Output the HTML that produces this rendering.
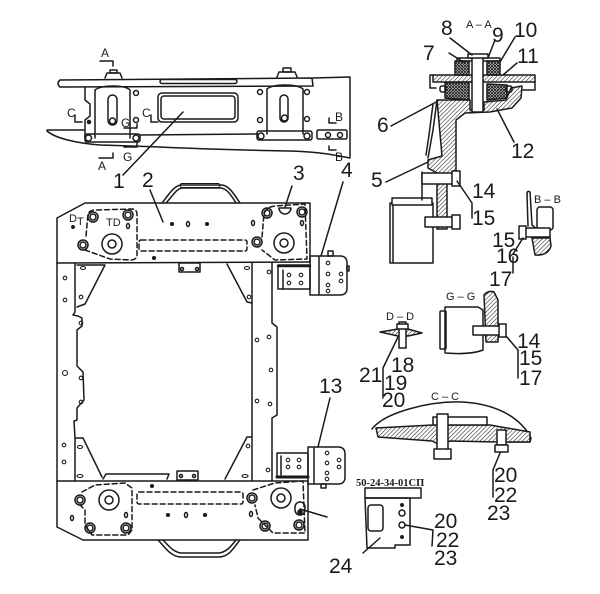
<!DOCTYPE html>
<html><head><meta charset="utf-8">
<style>
html,body{margin:0;padding:0;background:#fff;}
svg{display:block;}
text{font-family:"Liberation Sans",sans-serif;fill:#1a1a1a;stroke:none;}
.n{font-size:21px;}
.s{font-size:11px;}
.m{font-size:12px;}
</style></head><body>
<svg width="600" height="594" viewBox="0 0 600 594" xmlns="http://www.w3.org/2000/svg">
<defs>
<pattern id="h" width="3" height="3" patternUnits="userSpaceOnUse" patternTransform="rotate(45)"><rect width="3" height="3" fill="#fff"/><line x1="0" y1="0" x2="0" y2="3" stroke="#222" stroke-width="1.1"/></pattern>
<pattern id="x" width="3" height="3" patternUnits="userSpaceOnUse"><rect width="3" height="3" fill="#fff"/><path d="M0,0L3,3M3,0L0,3" stroke="#222" stroke-width="1"/></pattern>
</defs>
<rect width="600" height="594" fill="#fff"/>
<g fill="none" stroke="#1a1a1a" stroke-width="1.5" stroke-linejoin="round" stroke-linecap="round">

<!-- ===== TOP VIEW (part 1) ===== -->
<path d="M60,80 L312,78 L313,86 L60,87 Q56,83.5 60,80 Z"/>
<rect x="160" y="79.5" width="77" height="4" rx="2"/>
<path d="M313,78 L350,77 L350,157"/>
<path d="M85,87 L85,100 L90,104 L90,116 L85,120 L85,138"/>
<path d="M47,130 L85,130"/>
<path d="M47,131 C55,138 75,143 100,145 L160,147 C200,149 240,150 290,151 C320,152 335,155 350,158"/>
<path d="M140,135 L258,134"/>
<!-- left bracket -->
<path d="M95,138 L95,90 Q100,86 113,86 Q126,86 130,90 L130,138"/>
<rect x="108" y="95" width="9" height="30" rx="4.5"/>
<circle cx="112.5" cy="121" r="3"/>
<rect x="85" y="134" width="55" height="8" rx="2"/>
<circle cx="88.5" cy="138" r="3"/><circle cx="136" cy="138" r="3"/>
<circle cx="136" cy="93" r="2.5"/><circle cx="136" cy="120" r="2.5"/>
<circle cx="89" cy="122" r="1.5" fill="#1a1a1a"/>
<path d="M105,78 L107,73 L120,73 L122,78"/><rect x="110" y="70" width="7" height="3"/>
<!-- right bracket -->
<path d="M267,134 L267,89 Q272,85 285,85 Q298,85 303,89 L303,134"/>
<rect x="280" y="95" width="8" height="27" rx="4"/>
<circle cx="284.5" cy="118" r="3"/>
<rect x="257" y="131" width="55" height="9" rx="2"/>
<circle cx="261" cy="136" r="3"/><circle cx="307" cy="136" r="3"/>
<circle cx="260" cy="92" r="2.5"/><circle cx="260" cy="120" r="2.5"/>
<circle cx="307" cy="92" r="2.5"/><circle cx="307" cy="119" r="2.5"/>
<path d="M277,77 L279,72 L295,72 L297,77"/><rect x="283" y="68" width="8" height="4"/>
<!-- B plate -->
<rect x="317" y="130" width="30" height="9" rx="1.5"/>
<circle cx="328" cy="135" r="2.5"/><circle cx="340" cy="135" r="2.5"/>
<!-- window -->
<rect x="158" y="93" width="80" height="29" rx="4"/>
<rect x="161" y="96" width="74" height="23" rx="3"/>
<!-- section markers -->
<path d="M100,61 L113,61 L113,66"/>
<path d="M99,158 L113,158 L113,153"/>
<path d="M75,115 L75,122 L82,122"/>
<path d="M151,115 L151,122 L158,122"/>
<path d="M124,128 L137,128 L137,124"/>
<path d="M124,147 L137,147 L137,143"/>
<path d="M329,118 L329,123 L336,123"/>
<path d="M329,146 L329,150 L336,150"/>

<!-- ===== MAIN FRAME ===== -->
<path d="M57,263 L57,218 L85,203 L310,203 L310,262"/>
<path d="M57,263 L310,262"/>
<path d="M162,203 C168,196 173,186 181,185 L222,185 C230,186 235,196 240,203"/>
<path d="M166,203 C172,197 176,189 182,188 L221,188 C228,189 232,197 236,203"/>
<rect x="180" y="183.5" width="40" height="4" rx="2" stroke-width="1"/>
<circle cx="112" cy="244" r="10"/><circle cx="112" cy="244" r="4"/>
<circle cx="284" cy="243" r="10"/><circle cx="284" cy="243" r="4"/>
<circle cx="93" cy="217" r="5"/><circle cx="93" cy="217" r="3"/>
<circle cx="128" cy="215" r="5"/><circle cx="128" cy="215" r="3"/>
<circle cx="83" cy="245" r="5"/><circle cx="83" cy="245" r="3"/>
<circle cx="267" cy="213" r="5"/><circle cx="267" cy="213" r="3"/>
<circle cx="302" cy="212" r="5"/><circle cx="302" cy="212" r="3"/>
<circle cx="257" cy="242" r="5"/><circle cx="257" cy="242" r="3"/>
<path d="M279,208 A6,6 0 0 0 291,208 Z"/>
<ellipse cx="128" cy="226" rx="1.5" ry="2.5"/>
<ellipse cx="302" cy="223" rx="1.5" ry="2.5"/>
<ellipse cx="253" cy="223" rx="1.5" ry="2.5"/>
<ellipse cx="188" cy="224" rx="1.5" ry="2.5"/>
<circle cx="172" cy="224" r="1.3" fill="#1a1a1a"/>
<circle cx="207" cy="224" r="1.3" fill="#1a1a1a"/>
<circle cx="154" cy="258" r="1.3" fill="#1a1a1a"/>
<circle cx="73" cy="227" r="1.2" fill="#1a1a1a"/>
<g stroke-dasharray="5,3">
<path d="M86,236 L88,214 Q90,210 95,210 L133,209 Q137,210 137,214 L137,256 Q136,260 130,260 L110,259 L85,250"/>
<path d="M262,237 L264,214 Q266,207 275,206 L305,204 L307,259 L275,260 L262,250"/>
<rect x="139" y="240" width="108" height="11" rx="2"/>
</g>
<!-- rails -->
<path d="M57,263 L57,527 L83,540 L308,540 L308,481"/>
<path d="M57,481 L308,481"/>
<path d="M75,263 L75,312 L73,315 L78,316 L82,318 L82,326 L77,330 L77,366 L83,372 L84,400 L77,408 L77,420 L74,421 L75,438 L75,481"/>
<path d="M77,265 L105,265 L85,304 L77,307"/>
<path d="M75,438 L83,438 L102,477"/>
<path d="M252,263 L252,481"/>
<path d="M227,264 L247,302 L252,303"/>
<path d="M252,437 L247,437 L225,479"/>
<path d="M272,263 L272,323 L277,327 L277,415 L272,418 L272,481"/>
<rect x="179" y="263" width="21" height="9"/>
<circle cx="182" cy="269" r="1.5"/><circle cx="197" cy="269" r="1.5"/>
<rect x="177" y="471" width="21" height="9"/>
<circle cx="181" cy="476" r="1.5"/><circle cx="194" cy="476" r="1.5"/>
<path d="M103,479 L106,474 L169,474 L167,479"/>
<g stroke-width="1.1">
<circle cx="65" cy="278" r="1.8"/><circle cx="65" cy="300" r="1.8"/><circle cx="65" cy="373" r="2.5"/>
<circle cx="64" cy="445" r="1.8"/><circle cx="64" cy="462" r="1.8"/>
<ellipse cx="83" cy="268" rx="2.5" ry="1.5"/><circle cx="81" cy="297" r="1.8"/><circle cx="81" cy="323" r="1.8"/>
<circle cx="81" cy="378" r="1.8"/><circle cx="81" cy="402" r="1.8"/>
<ellipse cx="80" cy="447" rx="2.5" ry="1.5"/><ellipse cx="80" cy="476" rx="3" ry="1.5"/>
<ellipse cx="247" cy="268" rx="2.5" ry="1.5"/><circle cx="249" cy="297" r="1.8"/>
<circle cx="269" cy="272" r="1.8"/><circle cx="257" cy="340" r="1.8"/><circle cx="269" cy="337" r="1.8"/>
<circle cx="271" cy="370" r="1.8"/><circle cx="257" cy="401" r="1.8"/><circle cx="270" cy="404" r="1.8"/>
<circle cx="248" cy="446" r="1.8"/><circle cx="268" cy="470" r="1.8"/><ellipse cx="245" cy="476" rx="3" ry="1.5"/>
</g>
<!-- bottom plate -->
<path d="M158,540 C165,547 170,556 180,557 L220,557 C230,556 234,547 240,540"/>
<path d="M163,540 C169,546 173,552 181,553 L219,553 C227,552 231,546 236,540"/>
<circle cx="109" cy="500" r="10"/><circle cx="109" cy="500" r="4"/>
<circle cx="281" cy="498" r="10"/><circle cx="281" cy="498" r="4"/>
<circle cx="80" cy="500" r="5"/><circle cx="80" cy="500" r="3"/>
<circle cx="90" cy="528" r="5"/><circle cx="90" cy="528" r="3"/>
<circle cx="126" cy="528" r="5"/><circle cx="126" cy="528" r="3"/>
<circle cx="252" cy="498" r="5"/><circle cx="252" cy="498" r="3"/>
<circle cx="265" cy="526" r="5"/><circle cx="265" cy="526" r="3"/>
<circle cx="299" cy="525" r="5"/><circle cx="299" cy="525" r="3"/>
<rect x="295" y="502" width="10" height="13" rx="5"/>
<circle cx="300" cy="512" r="2" fill="#1a1a1a"/>
<ellipse cx="72" cy="518" rx="1.5" ry="2.5"/>
<ellipse cx="126" cy="515" rx="1.5" ry="2.5"/>
<ellipse cx="186" cy="515" rx="1.5" ry="2.5"/>
<ellipse cx="251" cy="514" rx="1.5" ry="2.5"/>
<circle cx="168" cy="515" r="1.3" fill="#1a1a1a"/>
<circle cx="205" cy="515" r="1.3" fill="#1a1a1a"/>
<circle cx="152" cy="486" r="1.3" fill="#1a1a1a"/>
<g stroke-dasharray="5,3">
<path d="M82,492 L95,485 L125,483 L132,488 L132,530 L128,535 L92,535 L85,525 L85,510 L80,505"/>
<path d="M253,490 L275,483 L303,481 L305,533 L273,533 L258,518 L255,505"/>
<rect x="137" y="492" width="106" height="12" rx="2"/>
</g>
<!-- bracket 4 -->
<path d="M310,256 L340,256 Q347,256 347,263 L347,288 Q347,295 340,295 L310,295 Z"/>
<path d="M319,257 L319,294"/>
<rect x="328" y="251" width="5" height="5"/>
<rect x="347" y="266" width="2" height="5"/>
<rect x="278" y="265" width="32" height="24"/>
<path d="M278,266 L310,266" stroke-width="2.5"/>
<path d="M283,270 L283,289"/>
<g stroke-width="1.1">
<circle cx="328" cy="263" r="1.8"/><circle cx="328" cy="274" r="1.8"/><circle cx="328" cy="285" r="1.8"/><circle cx="328" cy="291" r="1.8"/>
<circle cx="341" cy="274" r="1.8"/><circle cx="341" cy="281" r="1.8"/>
<circle cx="289" cy="275" r="1.8"/><circle cx="289" cy="283" r="1.8"/><circle cx="301" cy="275" r="1.8"/><circle cx="301" cy="283" r="1.8"/>
</g>
<!-- bracket 13 -->
<path d="M308,447 L338,447 Q345,447 345,454 L345,477 Q345,484 338,484 L308,484 Z"/>
<path d="M314,448 L314,483"/>
<rect x="321" y="484" width="5" height="4"/>
<rect x="277" y="453" width="31" height="24"/>
<path d="M277,477 L308,477" stroke-width="3"/>
<path d="M281,456 L281,475"/>
<g stroke-width="1.1">
<circle cx="327" cy="453" r="1.8"/><circle cx="327" cy="463" r="1.8"/><circle cx="327" cy="473" r="1.8"/><circle cx="327" cy="479" r="1.8"/>
<circle cx="339" cy="460" r="1.8"/><circle cx="339" cy="467" r="1.8"/>
<circle cx="288" cy="460" r="1.8"/><circle cx="288" cy="467" r="1.8"/><circle cx="299" cy="460" r="1.8"/><circle cx="299" cy="467" r="1.8"/>
</g>

<!-- leaders main -->
<path d="M123,175 L183,112"/>
<path d="M150,190 L163,222"/>
<path d="M292,186 L285,207"/>
<path d="M343,182 L321,256"/>
<path d="M330,398 L318,447"/>
<path d="M327,517 L300,509"/>

<!-- ===== SECTION A-A ===== -->
<path d="M437,100 L470,100 L470,110 L484,110 L484,102 L506,100 L511,88 L522,86 L521,98 L512,108 L490,112 L465,113 L456,120 L456,172 L447,178 L447,229 L437,229 L437,173 L428,168 L428,160 L442,156 Z" fill="url(#h)"/>
<path d="M437,100 L433,130 L428,158"/>
<path d="M433,104 L429,135 L426,155"/>
<rect x="433" y="75" width="102" height="7" fill="url(#h)"/>
<path d="M433,75 L430,75 L430,88 L436,88"/>
<path d="M535,82 L535,90 L523,90"/>
<rect x="455" y="61" width="14" height="14" fill="url(#x)"/>
<rect x="487" y="61" width="13" height="14" fill="url(#x)"/>
<rect x="457" y="58" width="43" height="3"/>
<path d="M445,83 L469,82 L469,100 L445,98 Z" fill="url(#x)"/>
<path d="M487,84 L507,85 L507,98 L487,100 Z" fill="url(#x)"/>
<rect x="440" y="86" width="6" height="6" rx="2"/>
<rect x="506" y="86" width="6" height="6" rx="2"/>
<rect x="472" y="56" width="11" height="56" fill="#fff"/>
<rect x="468" y="54" width="20" height="4" fill="#fff"/>
<!-- motor -->
<rect x="390" y="203" width="43" height="60" fill="#fff"/>
<rect x="392" y="198" width="40" height="7" fill="#fff"/>
<path d="M393,205 L393,262"/>
<path d="M422,172 L422,200"/>
<rect x="422" y="173" width="34" height="11" fill="#fff"/>
<rect x="452" y="171" width="8" height="15" fill="#fff"/>
<rect x="425" y="217" width="31" height="10" fill="#fff"/>
<rect x="452" y="215" width="8" height="14" fill="#fff"/>
<!-- leaders A-A -->
<path d="M449,53 L465,63"/>
<path d="M450,38 L472,55"/>
<path d="M495,40 L488,58"/>
<path d="M515,37 L500,62"/>
<path d="M517,63 L503,75"/>
<path d="M391,126 L438,101"/>
<path d="M386,182 L428,162"/>
<path d="M514,142 L497,109"/>
<path d="M472,218 L472,203 L457,181"/>

<!-- ===== B-B ===== -->
<path d="M527,194 Q527,190 530,192 L532,225 L540,232"/>
<path d="M527,194 L528,226"/>
<rect x="537" y="207" width="16" height="23" rx="3" fill="#fff"/>
<rect x="522" y="228" width="28" height="9" fill="#fff"/>
<rect x="519" y="226" width="7" height="13" fill="#fff"/>
<path d="M532,238 L550,238 L551,246 Q548,256 535,255 Z" fill="url(#h)"/>
<path d="M513,254 L523,238"/>
<path d="M513,257 L513,273"/>

<!-- ===== D-D ===== -->
<path d="M380,332 L398,329 L408,329 L422,333 L408,336 L398,336 Z" fill="url(#h)"/>
<rect x="399" y="322" width="7" height="26" fill="#fff"/>
<rect x="397" y="324" width="11" height="5" fill="#fff"/>
<path d="M398,337 L383,368 L383,398"/>

<!-- ===== G-G ===== -->
<path d="M445,307 L478,307 L483,310 L483,350 Q470,355 445,353 Z"/>
<rect x="440" y="311" width="6" height="38" rx="1"/>
<path d="M484,295 Q488,290 494,292 L498,300 L498,342 L486,342 Z" fill="url(#h)"/>
<rect x="473" y="326" width="27" height="9" fill="#fff"/>
<rect x="499" y="324" width="7" height="13" fill="#fff"/>
<path d="M506,336 L518,350 L518,378"/>

<!-- ===== C-C ===== -->
<path d="M372,429 C385,412 430,401 462,402 C500,404 522,420 531,438 L530,442 L508,442"/>
<path d="M376,428 L433,425 L490,425 L530,432 L530,442 L498,442 L450,441 L440,445 L432,441 L378,437 Z" fill="url(#h)"/>
<rect x="433" y="417" width="54" height="8" fill="#fff"/>
<rect x="437" y="414" width="11" height="38" fill="#fff"/>
<rect x="434" y="449" width="17" height="10" fill="#fff"/>
<rect x="497" y="430" width="9" height="15" fill="#fff"/>
<rect x="495" y="445" width="13" height="7" fill="#fff"/>
<path d="M500,453 L493,470 L493,497"/>

<!-- ===== PART 24 ===== -->
<rect x="365" y="488" width="56" height="10"/>
<path d="M365,498 L410,498 L410,545 L395,545 L395,548 L367,548 Z"/>
<rect x="368" y="505" width="15" height="26" rx="3"/>
<circle cx="402" cy="513" r="3"/><circle cx="402" cy="525" r="3"/>
<circle cx="402" cy="505" r="1.2" fill="#1a1a1a"/><circle cx="402" cy="537" r="1.2" fill="#1a1a1a"/>
<path d="M363,553 L380,538"/>
<path d="M405,525 L433,530 L432,546"/>
</g>

<!-- ===== TEXT ===== -->
<g>
<text class="m" x="101" y="57">A</text>
<text class="m" x="98" y="170">A</text>
<text class="m" x="67" y="117">C</text>
<text class="m" x="142" y="117">C</text>
<text class="m" x="121" y="127">G</text>
<text class="m" x="123" y="161">G</text>
<text class="m" x="335" y="121">B</text>
<text class="m" x="335" y="161">B</text>
<text class="s" x="69" y="222">D</text>
<text class="s" x="77" y="225">T</text>
<text class="s" x="106" y="226">TD</text>

<text class="s" x="466" y="28">A – A</text>
<text class="s" x="534" y="203">B – B</text>
<text class="s" x="446" y="300">G – G</text>
<text class="s" x="386" y="320">D – D</text>
<text class="s" x="431" y="400">C – C</text>
<text x="356" y="486" style="font-family:'Liberation Serif',serif;font-size:10.5px;font-weight:bold;">50-24-34-01СП</text>

<text class="n" x="113" y="188">1</text>
<text class="n" x="142" y="187">2</text>
<text class="n" x="293" y="180">3</text>
<text class="n" x="341" y="177">4</text>
<text class="n" x="371" y="187">5</text>
<text class="n" x="377" y="132">6</text>
<text class="n" x="423" y="60">7</text>
<text class="n" x="441" y="35">8</text>
<text class="n" x="492" y="42">9</text>
<text class="n" x="514" y="37">10</text>
<text class="n" x="517" y="63">11</text>
<text class="n" x="511" y="158">12</text>
<text class="n" x="472" y="198">14</text>
<text class="n" x="472" y="225">15</text>
<text class="n" x="492" y="247">15</text>
<text class="n" x="496" y="263">16</text>
<text class="n" x="489" y="286">17</text>
<text class="n" x="391" y="372">18</text>
<text class="n" x="359" y="382">21</text>
<text class="n" x="384" y="390">19</text>
<text class="n" x="382" y="407">20</text>
<text class="n" x="517" y="348">14</text>
<text class="n" x="519" y="365">15</text>
<text class="n" x="519" y="385">17</text>
<text class="n" x="319" y="393">13</text>
<text class="n" x="494" y="482">20</text>
<text class="n" x="494" y="502">22</text>
<text class="n" x="487" y="520">23</text>
<text class="n" x="434" y="528">20</text>
<text class="n" x="436" y="547">22</text>
<text class="n" x="434" y="565">23</text>
<text class="n" x="329" y="573">24</text>
</g>
</svg>
</body></html>
